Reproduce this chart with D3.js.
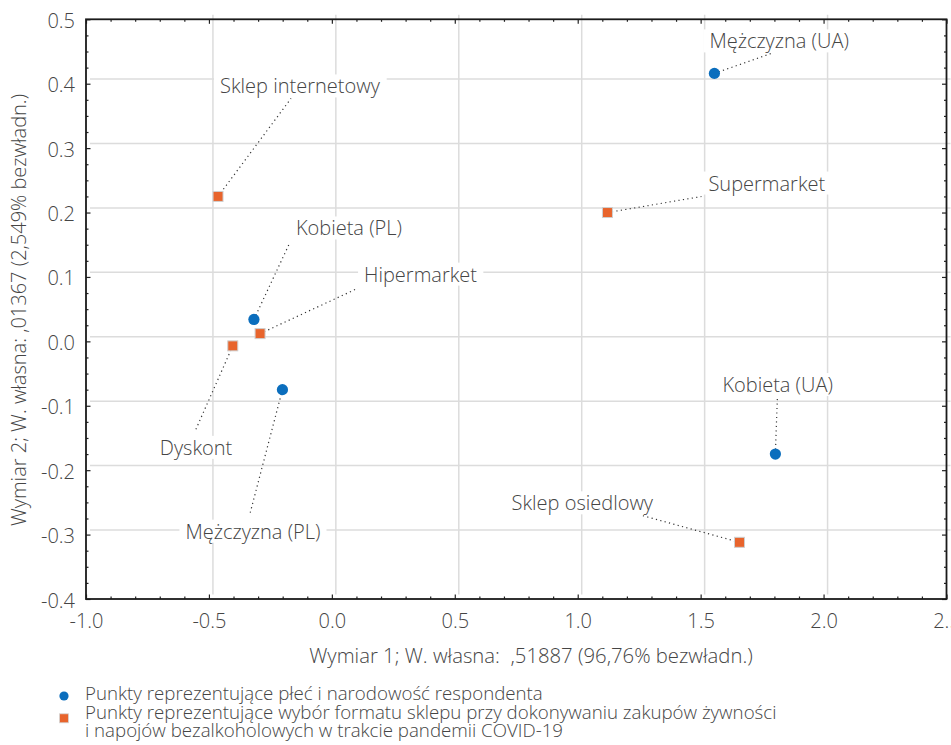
<!DOCTYPE html>
<html>
<head>
<meta charset="utf-8">
<script src="https://cdn.jsdelivr.net/npm/d3@7"></script>
<style>
  body { margin: 0; background: #fff; }
  svg text { font-family: "Open Sans", "Noto Sans", sans-serif; font-weight: 300; fill: #454545; white-space: pre; }
</style>
</head>
<body>
<div id="chart"></div>
<script>
// DATA
// points for sex and nationality of respondent
var sexNames = ['Mężczyzna (UA)', 'Kobieta (UA)', 'Kobieta (PL)', 'Mężczyzna (PL)'];
var sexDim1 = [1.556, 1.804, -0.317, -0.201];
var sexDim2 = [0.416, -0.175, 0.034, -0.075];

// points for store format
var storeNames = ['Sklep internetowy', 'Supermarket', 'Hipermarket', 'Dyskont', 'Sklep osiedlowy'];
var storeDim1 = [-0.463, 1.121, -0.292, -0.403, 1.658];
var storeDim2 = [0.225, 0.200, 0.012, -0.007, -0.312];

var xTicks = [-1.0, -0.5, 0.0, 0.5, 1.0, 1.5, 2.0, 2.5];
var yTicks = [-0.4, -0.3, -0.2, -0.1, 0.0, 0.1, 0.2, 0.3, 0.4, 0.5];

var xTitle = 'Wymiar 1; W. własna:  ,51887 (96,76% bezwładn.)';
var yTitle = 'Wymiar 2; W. własna: ,01367 (2,549% bezwładn.)';
var legendSex = ['Punkty reprezentujące płeć i narodowość respondenta'];
var legendStore = ['Punkty reprezentujące wybór formatu sklepu przy dokonywaniu zakupów żywności',
  'i napojów bezalkoholowych w trakcie pandemii COVID-19'];

// label placement (pixel offsets from the point: text start, leader end)
var labelLayout = {
  'Mężczyzna (UA)': { tx: -5, ty: -25, lx: 57, ly: -20 },
  'Kobieta (UA)': { tx: -53, ty: -62, lx: 2, ly: -57 },
  'Kobieta (PL)': { tx: 42, ty: -84, lx: 36, ly: -77 },
  'Mężczyzna (PL)': { tx: -97, ty: 149, lx: -33, ly: 126 },
  'Sklep internetowy': { tx: 2, ty: -103, lx: 73, ly: -98 },
  'Supermarket': { tx: 101, ty: -22, lx: 94, ly: -16 },
  'Hipermarket': { tx: 104, ty: -52, lx: 97, ly: -45 },
  'Dyskont': { tx: -73, ty: 109, lx: -38, ly: 86 },
  'Sklep osiedlowy': { tx: -228, ty: -32, lx: -98, ly: -27 }
};

var width = 951, height = 745;
var plotLeft = 86, plotRight = 946.5, plotTop = 19.3, plotBottom = 599;
var blue = '#0b6ebd', orange = '#e8642c';

var svg = d3.select('#chart').append('svg')
  .attr('width', width)
  .attr('height', height);

var x = d3.scaleLinear().domain([-1, 2.5]).range([plotLeft, plotRight]);
var y = d3.scaleLinear().domain([-0.4, 0.5]).range([plotBottom, plotTop]);

//build point list
var points = [];
sexNames.forEach(function(n, i) { points.push({ name: n, type: 'sex', d1: sexDim1[i], d2: sexDim2[i] }); });
storeNames.forEach(function(n, i) { points.push({ name: n, type: 'store', d1: storeDim1[i], d2: storeDim2[i] }); });

//GRID (drawn slightly shifted, as in the original)
var gx = 4, gy = -4.6;
var grid = svg.append('g').attr('transform', 'translate(' + gx + ',' + gy + ')');
grid.selectAll('.vgrid')
  .data(xTicks.slice(1, -1))
  .enter().append('line')
  .attr('x1', function(d) { return x(d); })
  .attr('x2', function(d) { return x(d); })
  .attr('y1', plotTop).attr('y2', plotBottom)
  .attr('stroke', '#dcdcdc').attr('stroke-width', 1.5);
grid.selectAll('.hgrid')
  .data(yTicks.slice(1, -1))
  .enter().append('line')
  .attr('y1', function(d) { return y(d); })
  .attr('y2', function(d) { return y(d); })
  .attr('x1', plotLeft).attr('x2', plotRight)
  .attr('stroke', '#dcdcdc').attr('stroke-width', 1.5);

//LABEL BACKGROUNDS + TEXT
var labels = svg.append('g');
var labelText = labels.selectAll('text')
  .data(points)
  .enter().append('text')
  .attr('x', function(d) { return x(d.d1) + labelLayout[d.name].tx; })
  .attr('y', function(d) { return y(d.d2) + labelLayout[d.name].ty; })
  .style('font-size', '20px')
  .text(function(d) { return d.name; });

labelText.each(function() {
  var b = this.getBBox();
  labels.insert('rect', 'text')
    .attr('x', b.x - 6).attr('y', b.y + 2)
    .attr('width', b.width + 12).attr('height', b.height - 4)
    .attr('fill', '#fff');
});

//LEADER LINES
svg.selectAll('.leader')
  .data(points)
  .enter().append('line')
  .attr('class', 'leader')
  .attr('x1', function(d) { return x(d.d1); })
  .attr('y1', function(d) { return y(d.d2); })
  .attr('x2', function(d) { return x(d.d1) + labelLayout[d.name].lx; })
  .attr('y2', function(d) { return y(d.d2) + labelLayout[d.name].ly; })
  .attr('stroke', '#333')
  .attr('stroke-width', 1.2)
  .attr('stroke-dasharray', '1.2,3.3');

//bring text to front
labels.raise();

//AXES (ticks inside)
function minors(step, lo, hi, majors) {
  var out = [];
  for (var i = Math.round(lo / step); i <= Math.round(hi / step); i++) {
    var v = +(i * step).toFixed(4);
    if (majors.indexOf(v) < 0) out.push(v);
  }
  return out;
}
var xMinor = minors(0.1, -1, 2.5, xTicks);
var yMinor = minors(0.025, -0.4, 0.5, yTicks);
var fmt = function(d) { return d.toFixed(1); };

function drawAxis(axisFn, scale, pos, majors, minorVals, labelsOn, pad) {
  var g = svg.append('g').attr('transform', pos);
  g.call(axisFn(scale).tickValues(minorVals).tickSize(-2.5).tickFormat(''));
  g.append('g').call(axisFn(scale).tickValues(majors).tickSize(-4.5).tickPadding(pad)
    .tickFormat(labelsOn ? fmt : ''));
  g.selectAll('.domain').remove();
  g.selectAll('line').attr('stroke', '#222').attr('stroke-width', 1.2);
  g.selectAll('text').style('font-size', '20px').attr('fill', '#454545');
  return g;
}
drawAxis(d3.axisBottom, x, 'translate(0,' + plotBottom + ')', xTicks, xMinor, true, 14.8);
var yAxisG = drawAxis(d3.axisLeft, y, 'translate(' + plotLeft + ',0)', yTicks, yMinor, true, 11);
yAxisG.selectAll('text').attr('dy', '0.4em');
drawAxis(d3.axisTop, x, 'translate(0,' + plotTop + ')', xTicks, xMinor, false, 0);
drawAxis(d3.axisRight, y, 'translate(' + plotRight + ',0)', yTicks, yMinor, false, 0);

svg.append('rect')
  .attr('x', plotLeft).attr('y', plotTop)
  .attr('width', plotRight - plotLeft).attr('height', plotBottom - plotTop)
  .attr('fill', 'none').attr('stroke', '#1a1a1a').attr('stroke-width', 1.8);

//POINTS
svg.selectAll('.sex')
  .data(points.filter(function(d) { return d.type === 'sex'; }))
  .enter().append('circle')
  .attr('cx', function(d) { return x(d.d1); })
  .attr('cy', function(d) { return y(d.d2); })
  .attr('r', 5.6)
  .attr('fill', blue);

svg.selectAll('.store')
  .data(points.filter(function(d) { return d.type === 'store'; }))
  .enter().append('rect')
  .attr('x', function(d) { return x(d.d1) - 5; })
  .attr('y', function(d) { return y(d.d2) - 5; })
  .attr('width', 10).attr('height', 10)
  .attr('fill', orange)
  .attr('stroke', '#cfcfcf').attr('stroke-width', 1);

//AXIS TITLES
svg.append('text')
  .attr('x', 531).attr('y', 663)
  .attr('text-anchor', 'middle')
  .style('font-size', '20.3px')
  .text(xTitle);

svg.append('text')
  .attr('transform', 'translate(26,' + 310 + ') rotate(-90)')
  .attr('text-anchor', 'middle')
  .style('font-size', '20px')
  .text(yTitle);

//LEGEND
var legend = svg.append('g');
legend.append('circle').attr('cx', 64).attr('cy', 696).attr('r', 4.6).attr('fill', blue);
legend.append('rect').attr('x', 59.5).attr('y', 713.8).attr('width', 9).attr('height', 9)
  .attr('fill', orange).attr('stroke', '#d5d5d5').attr('stroke-width', 0.8);
var legendLines = legendSex.concat(legendStore);
var legendY = [700, 719, 737];
legend.selectAll('.legend-text')
  .data(legendLines)
  .enter().append('text')
  .attr('x', 85)
  .attr('y', function(d, i) { return legendY[i]; })
  .style('font-size', '18.7px')
  .text(function(d) { return d; });
</script>
</body>
</html>
